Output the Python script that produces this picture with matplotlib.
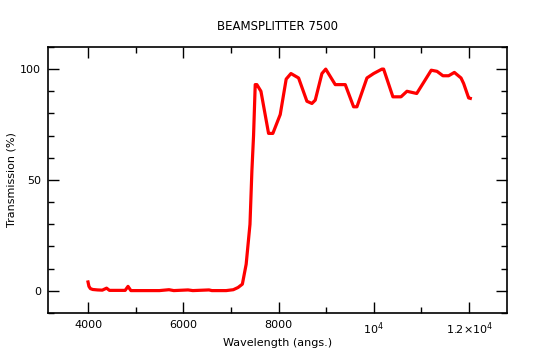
import matplotlib
matplotlib.use("Agg")
import matplotlib.pyplot as plt
from matplotlib.ticker import MultipleLocator

# transmission curve
wavelength = [4000, 4020, 4050, 4100, 4200, 4300, 4390, 4450, 4600, 4780, 4840, 4900,
              5200, 5500, 5700, 5800, 6100, 6200, 6540, 6600, 6900, 7050, 7150, 7240,
              7320, 7400, 7440, 7475, 7510, 7545, 7630, 7790, 7880, 8035, 8160, 8260,
              8420, 8595, 8700, 8770, 8910, 8990, 9190, 9400, 9575, 9645, 9855, 9995,
              10170, 10205, 10400, 10570, 10695, 10900, 11060, 11205, 11325, 11450,
              11570, 11690, 11830, 11885, 11990, 12025]
transmission = [4.0, 2.0, 1.0, 0.6, 0.4, 0.3, 1.2, 0.2, 0.2, 0.2, 2.0, 0.1,
                0.1, 0.1, 0.5, 0.1, 0.4, 0.1, 0.4, 0.1, 0.1, 0.5, 1.5, 3.0,
                12.0, 30.0, 54.0, 70.0, 93.0, 93.0, 90.0, 71.0, 71.0, 79.5, 95.5, 98.0,
                96.0, 85.5, 84.5, 86.0, 98.0, 100.0, 93.0, 93.0, 83.0, 83.0, 96.0, 98.0,
                100.0, 100.0, 87.5, 87.5, 90.0, 89.0, 94.5, 99.5, 99.0, 97.0,
                97.0, 98.5, 96.0, 93.5, 87.0, 86.8]

xticks = [4000, 6000, 8000, 10000, 12000]
xticklabels = ["4000", "6000", "8000", r"10$^4$", r"1.2$\times$10$^4$"]
yticks = [0, 50, 100]

plt.rcParams['font.family'] = ['DejaVu Sans']
plt.rcParams['font.size'] = 8

fig = plt.figure(figsize=(5.56, 3.61), dpi=100)
ax = fig.add_axes([0.0863, 0.133, 0.826, 0.737])

ax.plot(wavelength, transmission, color='#ff0000', linewidth=2.3)

ax.set_xlim(3160, 12800)
ax.set_ylim(-10, 110)
ax.set_xticks(xticks)
ax.set_xticklabels(xticklabels)
ax.set_yticks(yticks)
ax.xaxis.set_minor_locator(MultipleLocator(1000))
ax.yaxis.set_minor_locator(MultipleLocator(10))
ax.tick_params(which='both', direction='in', top=True, right=True, width=1, color='black')
ax.tick_params(which='major', length=8, pad=5)
ax.tick_params(which='minor', length=4)
for s in ax.spines.values():
    s.set_linewidth(1.2)

ax.set_title("BEAMSPLITTER 7500", fontsize=8.5, pad=12)
ax.set_xlabel("Wavelength (angs.)", labelpad=1)
ax.set_ylabel("Transmission (%)")
ax.yaxis.set_label_coords(-0.068, 0.5)

fig.savefig("out.png", dpi=100)
